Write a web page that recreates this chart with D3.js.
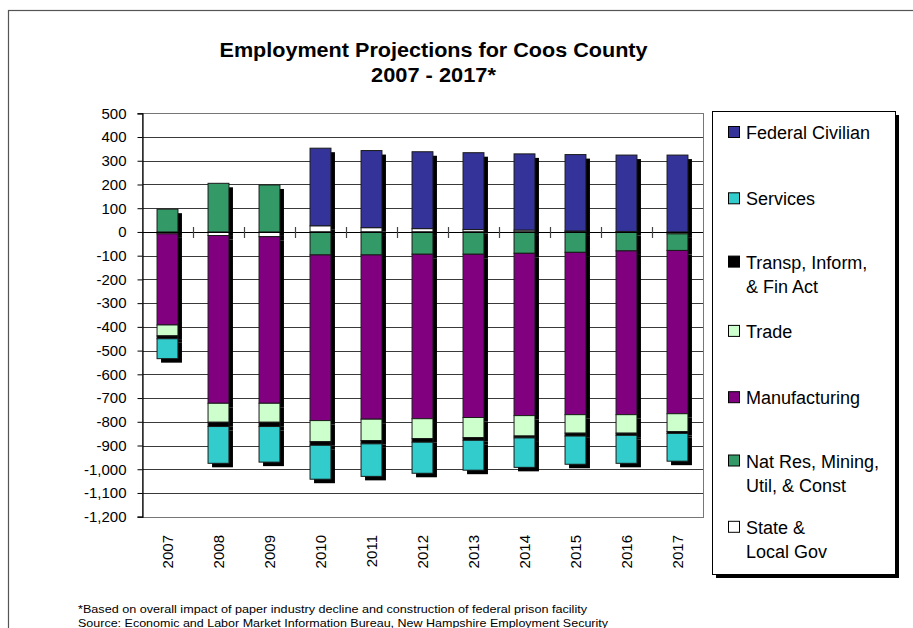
<!DOCTYPE html>
<html>
<head>
<meta charset="utf-8">
<script src="https://cdn.jsdelivr.net/npm/d3@7"></script>
<style>
  body { margin: 0; background: #fff; }
  svg { display: block; font-family: "Liberation Sans", Arial, sans-serif; }
</style>
</head>
<body>
<svg id="chart" width="913" height="628"></svg>
<script>
// years on the x axis
const years = ["2007","2008","2009","2010","2011","2012","2013","2014","2015","2016","2017"];

// change in jobs per sector (stacked in this order from zero outward)
const stateLocalGov = [-8, -15, -20, 26, 18, 14, 10, 8, 4, 2, -8];
const natResMining  = [96, 205, 198, -97, -97, -94, -94, -90, -86, -80, -70];
const manufacturing = [-384, -707, -702, -698, -692, -693, -688, -684, -684, -690, -688];
const trade         = [-46, -80, -80, -89, -90, -84, -85, -86, -78, -78, -75];
const transpFin     = [-12, -18, -18, -15, -14, -15, -11, -8, -12, -9, -8];
const services      = [-84, -155, -150, -143, -137, -131, -126, -124, -119, -118, -117];
const federalCiv    = [0, 0, 0, 327, 325, 324, 324, 321, 322, 322, 324];

const yTicks = d3.range(-1200, 501, 100);

const series = [
  {key: "State & Local Gov", values: stateLocalGov, color: "#ffffff", label: ["State &", "Local Gov"]},
  {key: "Nat Res, Mining, Util, & Const", values: natResMining, color: "#339966", label: ["Nat Res, Mining,", "Util, & Const"]},
  {key: "Manufacturing", values: manufacturing, color: "#800080", label: ["Manufacturing"]},
  {key: "Trade", values: trade, color: "#ccffcc", label: ["Trade"]},
  {key: "Transp, Inform, & Fin Act", values: transpFin, color: "#000000", label: ["Transp, Inform,", "& Fin Act"]},
  {key: "Services", values: services, color: "#33cccc", label: ["Services"]},
  {key: "Federal Civilian", values: federalCiv, color: "#333399", label: ["Federal Civilian"]}
];

// table for d3.stack
let rows = years.map(function(yr, i) {
  let r = {year: yr};
  series.forEach(function(s) { r[s.key] = s.values[i]; });
  return r;
});

const svg = d3.select("#chart");
const plotL = 142, plotR = 703, plotT = 113.3, plotB = 516.7;

// outer chart frame
svg.append("rect")
  .attr("x", 8.5).attr("y", 10.5).attr("width", 1000).attr("height", 1000)
  .attr("fill", "none").attr("stroke", "#555").attr("stroke-width", 1.2);

let x = d3.scaleBand().domain(years).range([plotL, plotR])
  .paddingInner(0.59).paddingOuter(0.295);
let y = d3.scaleLinear().domain([-1200, 500]).range([plotB, plotT]);

// title
svg.append("text").attr("x", 433.5).attr("y", 57).attr("text-anchor", "middle")
  .attr("font-size", 20).attr("font-weight", "bold")
  .attr("textLength", 428).attr("lengthAdjust", "spacingAndGlyphs")
  .text("Employment Projections for Coos County");
svg.append("text").attr("x", 433.5).attr("y", 82).attr("text-anchor", "middle")
  .attr("font-size", 20).attr("font-weight", "bold")
  .attr("textLength", 125).attr("lengthAdjust", "spacingAndGlyphs")
  .text("2007 - 2017*");

// gridlines
svg.append("g").selectAll("line").data(yTicks).enter().append("line")
  .attr("x1", plotL).attr("x2", plotR)
  .attr("y1", d => Math.round(y(d)) + 0.5).attr("y2", d => Math.round(y(d)) + 0.5)
  .attr("stroke", "#3a3a3a").attr("stroke-width", 1);

// plot area border
svg.append("rect").attr("x", plotL + 0.5).attr("y", Math.round(plotT) + 0.5)
  .attr("width", plotR - plotL).attr("height", Math.round(plotB) - Math.round(plotT))
  .attr("fill", "none").attr("stroke", "#777").attr("stroke-width", 1);

// y axis
let yAxis = d3.axisLeft(y).tickValues(yTicks).tickSize(5).tickPadding(11)
  .tickFormat(d3.format(","));
let ga = svg.append("g").attr("transform", "translate(" + (plotL + 0.5) + ",0)").call(yAxis);
ga.selectAll("text").attr("font-size", 15).attr("font-family", "Liberation Sans, Arial, sans-serif")
  .attr("fill", "#000").text(d => d3.format(",")(d).replace("−", "-"));
ga.selectAll("line").attr("stroke", "#000");
ga.select(".domain").attr("stroke", "#000").attr("stroke-width", 1.2);

// stacked bars
let stack = d3.stack().keys(series.map(s => s.key)).offset(d3.stackOffsetDiverging);
let layers = stack(rows);

let shadows = svg.append("g");
let bars = svg.append("g");
layers.forEach(function(layer, li) {
  let segs = layer.filter(d => d[1] - d[0] !== 0);
  shadows.selectAll(null).data(segs).enter().append("rect")
    .attr("x", d => x(d.data.year) + 4)
    .attr("y", d => y(d[1]) + 4)
    .attr("width", x.bandwidth())
    .attr("height", d => y(d[0]) - y(d[1]))
    .attr("fill", "#000");
  bars.selectAll(null).data(segs).enter().append("rect")
    .attr("x", d => x(d.data.year))
    .attr("y", d => y(d[1]))
    .attr("width", x.bandwidth())
    .attr("height", d => y(d[0]) - y(d[1]))
    .attr("fill", series[li].color)
    .attr("stroke", "#1a1a1a").attr("stroke-width", 1);
});

// x axis along zero, ticks crossing at category boundaries
let y0 = Math.round(y(0)) + 0.5;
svg.append("line").attr("x1", plotL).attr("x2", plotR).attr("y1", y0).attr("y2", y0)
  .attr("stroke", "#000").attr("stroke-width", 1.2);
let bounds = years.slice(1).map(d => x(d) - x.step() * x.paddingInner() / 2);
svg.append("g").selectAll("line").data(bounds).enter().append("line")
  .attr("x1", d => Math.round(d) + 0.5).attr("x2", d => Math.round(d) + 0.5)
  .attr("y1", y0 - 5.5).attr("y2", y0 + 5.5)
  .attr("stroke", "#444").attr("stroke-width", 1.2);

// x labels, rotated
svg.append("g").selectAll("text").data(years).enter().append("text")
  .attr("transform", d => "translate(" + (x(d) + x.bandwidth() / 2 + 5.5) + ",535) rotate(-90)")
  .attr("text-anchor", "end").attr("font-size", 15)
  .text(d => d);

// legend
const lx = 712, ly = 111, lw = 183, lh = 463;
svg.append("rect").attr("x", lx + 4).attr("y", ly + 4).attr("width", lw).attr("height", lh).attr("fill", "#000");
svg.append("rect").attr("x", lx + 0.5).attr("y", ly + 0.5).attr("width", lw).attr("height", lh)
  .attr("fill", "#fff").attr("stroke", "#000").attr("stroke-width", 1);

let legendItems = series.slice().reverse();
legendItems.forEach(function(s, i) {
  let base = 139 + i * 66.3 - (s.label.length > 1 ? 3 : 0);
  svg.append("rect").attr("x", 728.5).attr("y", base - 12.5).attr("width", 11).attr("height", 11)
    .attr("fill", s.color).attr("stroke", "#000").attr("stroke-width", 1);
  s.label.forEach(function(t, j) {
    svg.append("text").attr("x", 746).attr("y", base + j * 24)
      .attr("font-size", 18).text(t);
  });
});

// footnotes
svg.append("text").attr("x", 78).attr("y", 613).attr("font-size", 10.5)
  .attr("textLength", 509).attr("lengthAdjust", "spacingAndGlyphs")
  .text("*Based on overall impact of paper industry decline and construction of federal prison facility");
svg.append("text").attr("x", 78).attr("y", 627).attr("font-size", 10.5)
  .attr("textLength", 530).attr("lengthAdjust", "spacingAndGlyphs")
  .text("Source: Economic and Labor Market Information Bureau, New Hampshire Employment Security");
</script>
</body>
</html>
